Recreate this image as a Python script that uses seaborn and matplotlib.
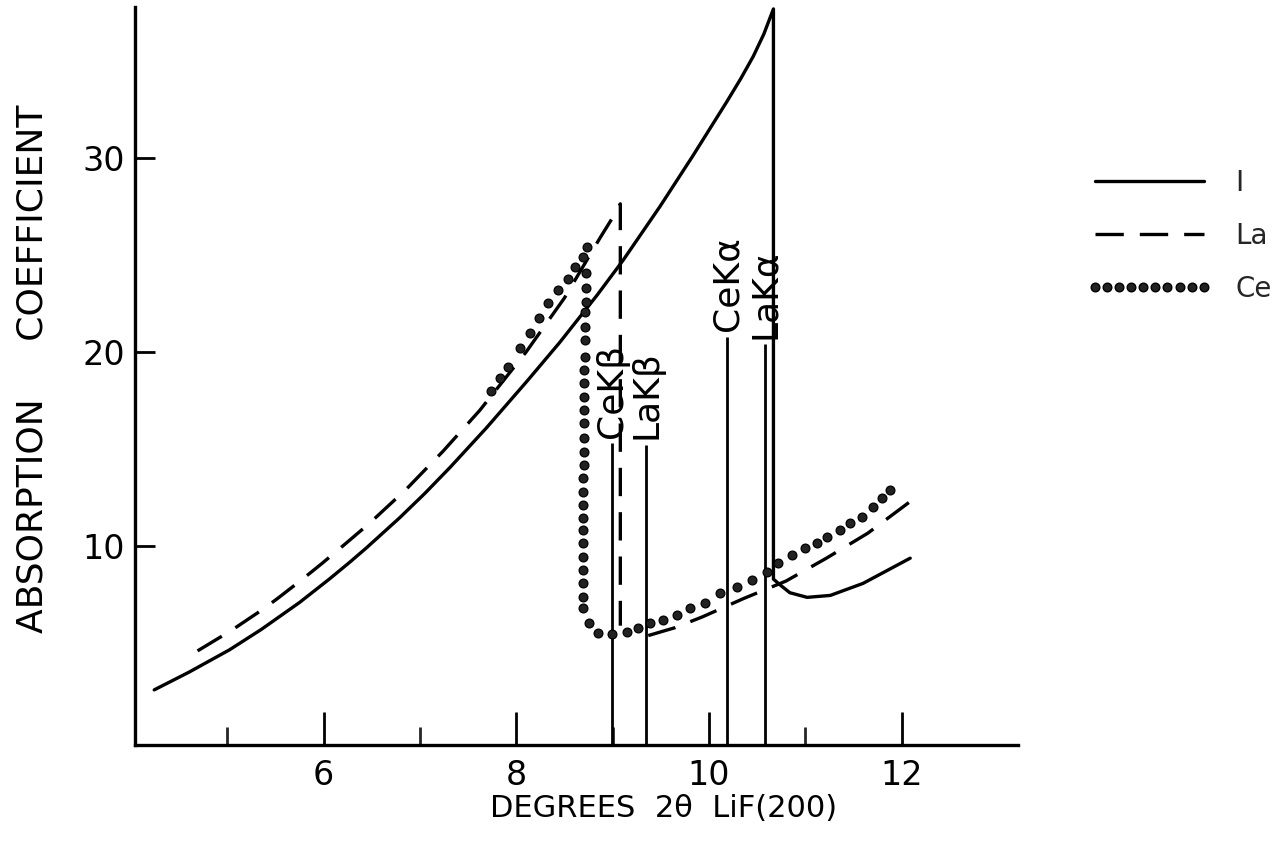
import matplotlib
matplotlib.use("Agg")
import matplotlib.pyplot as plt
import seaborn as sns
from matplotlib.lines import Line2D

# ---------------- data ----------------
# Curve "I" (solid): rising branch, edge drop, post-edge branch
i_x = [4.24, 4.60, 5.02, 5.35, 5.65, 5.75, 6.06, 6.27, 6.45, 6.79, 7.05, 7.31,
       7.69, 8.11, 8.45, 8.84, 9.11, 9.49, 9.83, 10.19, 10.33, 10.46, 10.57, 10.67,
       10.67, 10.74, 10.84, 11.02, 11.26, 11.60, 12.09]
i_y = [2.59, 3.50, 4.65, 5.70, 6.75, 7.10, 8.31, 9.17, 9.94, 11.47, 12.72, 14.05,
       16.10, 18.50, 20.50, 22.95, 24.75, 27.50, 30.10, 32.95, 34.10, 35.25, 36.40, 37.70,
       8.30, 8.00, 7.60, 7.36, 7.46, 8.08, 9.38]

# Curve "La" (dashed): rising branch with edge drop, then post-edge branch
la_pre_x = [4.69, 4.94, 5.10, 5.37, 5.52, 5.78, 5.98, 6.22, 6.48, 6.86, 7.24,
            7.62, 8.10, 8.50, 8.87, 9.02, 9.08, 9.08]
la_pre_y = [4.60, 5.35, 5.85, 6.75, 7.30, 8.30, 9.10, 10.10, 11.20, 12.95, 14.90,
            17.00, 20.00, 22.80, 25.90, 27.10, 27.65, 5.90]
la_post_x = [9.37, 9.65, 9.94, 10.36, 10.80, 11.22, 11.65, 12.09]
la_post_y = [5.39, 5.80, 6.37, 7.30, 8.20, 9.38, 10.67, 12.30]

# Curve "Ce" (dotted, individual points)
ce_x = [7.74, 7.83, 7.91, 8.04, 8.14, 8.24, 8.33, 8.43, 8.54, 8.61, 8.69, 8.73,
        8.72, 8.72, 8.72, 8.71, 8.71, 8.71, 8.71, 8.70, 8.70, 8.70, 8.70, 8.70,
        8.70, 8.70, 8.70, 8.69, 8.69, 8.69, 8.69, 8.69, 8.69, 8.69, 8.69, 8.69,
        8.69, 8.69,
        8.75, 8.85, 8.99, 9.15, 9.26, 9.39, 9.52, 9.67, 9.80, 9.96, 10.11, 10.29,
        10.45, 10.60, 10.72, 10.86, 11.00, 11.12, 11.23, 11.36, 11.46, 11.59,
        11.70, 11.80, 11.88]
ce_y = [17.99, 18.66, 19.23, 20.20, 20.98, 21.75, 22.53, 23.20, 23.80, 24.40, 24.90, 25.40,
        24.10, 23.30, 22.60, 22.06, 21.29, 20.62, 19.74, 19.07, 18.40, 17.68, 17.01, 16.34,
        15.57, 14.85, 14.18, 13.50, 12.78, 12.11, 11.44, 10.82, 10.15, 9.43, 8.76, 8.09,
        7.37, 6.80,
        6.03, 5.52, 5.46, 5.57, 5.77, 6.03, 6.19, 6.44, 6.80, 7.06, 7.58, 7.89,
        8.25, 8.66, 9.12, 9.54, 9.90, 10.15, 10.46, 10.82, 11.19, 11.49,
        12.01, 12.47, 12.89]

# Emission lines
line_x = [8.99, 9.35, 10.19, 10.58]
line_top = [15.3, 15.2, 20.8, 20.4]
line_labels = ["CeK\u03b2", "LaK\u03b2", "CeK\u03b1", "LaK\u03b1"]

series_labels = ["I", "La", "Ce"]
major_x = [6, 8, 10, 12]
major_x_labels = ["6", "8", "10", "12"]
minor_x = [5, 7, 9, 11]
y_ticks = [10, 20, 30]
x_lim = (4.04, 13.21)
y_lim = (-0.25, 37.8)

# ---------------- plot ----------------
sns.set_theme(style="ticks")
plt.rcParams['font.family'] = ['DejaVu Sans']

fig = plt.figure(figsize=(12.78, 8.41), dpi=100)
ax = fig.add_axes([0.1056, 0.1142, 0.6910, 0.8775])

LW = 2.4
DASH = (8.5, 4.8)

sns.lineplot(x=i_x, y=i_y, sort=False, estimator=None, color="black", lw=LW, ax=ax)
sns.lineplot(x=la_pre_x, y=la_pre_y, sort=False, estimator=None, color="black", lw=LW, ax=ax)
ax.lines[-1].set_dashes(DASH)
sns.lineplot(x=la_post_x, y=la_post_y, sort=False, estimator=None, color="black", lw=LW, ax=ax)
ax.lines[-1].set_dashes(DASH)
sns.scatterplot(x=ce_x, y=ce_y, s=40, marker="o", color="#222222",
                edgecolor="black", linewidth=0.9, ax=ax, zorder=3)

ax.vlines(line_x, y_lim[0], line_top, color="black", lw=2.0)
for x, top, lab in zip(line_x, line_top, line_labels):
    ax.text(x, top + 0.3, lab, rotation=90, ha="center", va="bottom",
            fontsize=26, color="black")

ax.set_xlim(*x_lim)
ax.set_ylim(*y_lim)
ax.set_xticks(major_x)
ax.set_xticklabels(major_x_labels)
ax.set_xticks(minor_x, minor=True)
ax.set_yticks(y_ticks)

ax.tick_params(axis="x", which="major", direction="in", length=24, width=2.0,
               pad=10, labelsize=24, colors="black")
ax.tick_params(axis="x", which="minor", direction="in", length=13, width=2.0)
ax.tick_params(axis="y", direction="in", length=14.5, width=2.0, pad=7,
               labelsize=24, colors="black")

sns.despine(ax=ax)
for sp in ("left", "bottom"):
    ax.spines[sp].set_linewidth(2.4)
    ax.spines[sp].set_color("black")

ax.set_xlabel("DEGREES  2\u03b8  LiF(200)", fontsize=22, color="black")
ax.xaxis.set_label_coords(0.599, -0.066)
ax.set_ylabel("ABSORPTION     COEFFICIENT", fontsize=26, color="black")
ax.yaxis.set_label_coords(-0.097, 0.51)

handles = [
    Line2D([], [], color="black", lw=LW),
    Line2D([], [], color="black", lw=LW, dashes=DASH),
    Line2D([], [], color="black", marker="o", linestyle="none", markersize=6.2,
           markerfacecolor="#222222", markeredgecolor="black"),
]
fig.legend(handles, series_labels, loc="upper left", bbox_to_anchor=(0.8505, 0.799),
           frameon=False, handlelength=4.5, numpoints=10, fontsize=20,
           handletextpad=0.85, labelspacing=0.9, borderpad=0, borderaxespad=0)

fig.savefig("out.png", dpi=100, facecolor="white")
